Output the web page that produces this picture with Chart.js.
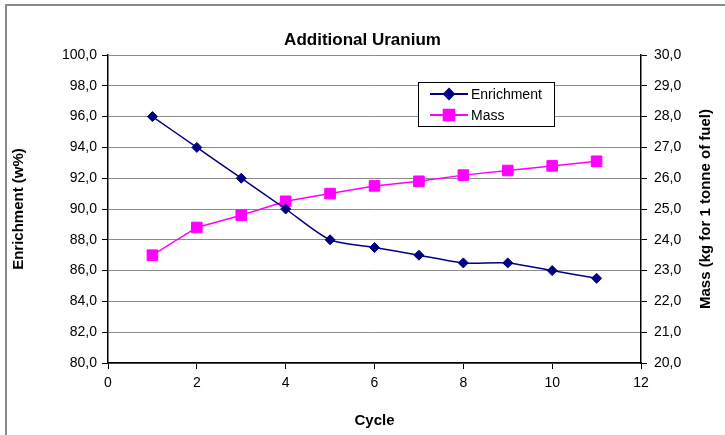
<!DOCTYPE html>
<html>
<head>
<meta charset="utf-8">
<script src="https://cdn.jsdelivr.net/npm/chart.js@4.4.1/dist/chart.umd.min.js"></script>
<style>
  html, body { margin: 0; padding: 0; background: #fff; }
  #wrap { position: relative; width: 725px; height: 435px; }
  #frame {
    position: absolute; left: 5px; top: 4px; right: 0; bottom: 0;
    border-left: 2px solid #8a8a8a; border-top: 2px solid #8a8a8a;
    pointer-events: none;
  }
  canvas { position: absolute; left: 0; top: 0; }
</style>
</head>
<body>
<div id="wrap">
  <canvas id="chart" width="725" height="435"></canvas>
  <div id="frame"></div>
</div>
<script>
  // 数据
  const cycles = [1, 2, 3, 4, 5, 6, 7, 8, 9, 10, 11];
  const enrichment = [96, 94, 92, 90, 88, 87.5, 87, 86.5, 86.5, 86, 85.5];
  const mass = [23.5, 24.4, 24.8, 25.25, 25.5, 25.75, 25.9, 26.1, 26.25, 26.4, 26.55];
  const seriesLabels = ['Enrichment', 'Mass'];
  const seriesColors = ['#000080', '#ff00ff'];
  const rightTitle = 'Mass (kg for 1 tonne of fuel)';

  const fontFamily = "'Liberation Sans', Arial, sans-serif";
  const fmt = v => v.toFixed(1).replace('.', ',');

  // 图内图例（Excel 风格，带边框）
  const boxLegend = {
    id: 'boxLegend',
    afterDraw(chart) {
      const c = chart.ctx;
      const x = 418, y = 82, w = 136, h = 44;
      c.save();
      c.fillStyle = '#fff';
      c.fillRect(x, y, w, h);
      c.strokeStyle = '#000';
      c.lineWidth = 1;
      c.strokeRect(x + 0.5, y + 0.5, w, h);
      c.font = '14px ' + fontFamily;
      c.textBaseline = 'middle';
      chart.data.datasets.forEach((ds, i) => {
        const ly = y + 12 + i * 21;
        c.strokeStyle = ds.borderColor;
        c.lineWidth = 2;
        c.beginPath();
        c.moveTo(x + 12, ly);
        c.lineTo(x + 50, ly);
        c.stroke();
        Chart.helpers.drawPoint(c, {
          pointStyle: ds.pointStyle,
          radius: ds.pointRadius,
          borderWidth: 1
        }, x + 31, ly);
        c.fillStyle = ds.borderColor;
        c.fill();
        c.fillStyle = '#000';
        c.fillText(ds.label, x + 53, ly + 1);
      });
      c.restore();
    }
  };

  // 右轴标题：自下而上书写（Chart.js 默认是自上而下）
  const rightAxisTitle = {
    id: 'rightAxisTitle',
    afterDraw(chart) {
      const c = chart.ctx;
      const area = chart.chartArea;
      c.save();
      c.translate(706, (area.top + area.bottom) / 2);
      c.rotate(-Math.PI / 2);
      c.font = 'bold 15px ' + fontFamily;
      c.fillStyle = '#000';
      c.textAlign = 'center';
      c.textBaseline = 'middle';
      c.fillText(rightTitle, 0, 0);
      c.restore();
    }
  };

  new Chart(document.getElementById('chart'), {
    type: 'line',
    data: {
      datasets: [
        {
          label: seriesLabels[0],
          data: cycles.map((c, i) => ({ x: c, y: enrichment[i] })),
          yAxisID: 'y',
          borderColor: seriesColors[0],
          backgroundColor: seriesColors[0],
          borderWidth: 1.5,
          pointStyle: 'rectRot',
          pointRadius: 5,
          pointBorderWidth: 1,
          tension: 0.25,
          fill: false
        },
        {
          label: seriesLabels[1],
          data: cycles.map((c, i) => ({ x: c, y: mass[i] })),
          yAxisID: 'y1',
          borderColor: seriesColors[1],
          backgroundColor: seriesColors[1],
          borderWidth: 1.5,
          pointStyle: 'rect',
          pointRadius: 7.5,
          pointBorderWidth: 1,
          tension: 0,
          fill: false
        }
      ]
    },
    options: {
      responsive: false,
      animation: false,
      layout: { padding: 0 },
      font: { family: fontFamily },
      plugins: {
        legend: { display: false },
        tooltip: { enabled: false },
        title: {
          display: true,
          text: 'Additional Uranium',
          color: '#000',
          font: { family: fontFamily, size: 17, weight: 'bold' },
          padding: { top: 30, bottom: 4.6 }
        }
      },
      scales: {
        x: {
          type: 'linear',
          min: 0, max: 12,
          afterFit: s => { s.height = 72; },
          ticks: { stepSize: 2, color: '#000', padding: 6, font: { family: fontFamily, size: 14 } },
          grid: { drawOnChartArea: false, drawTicks: true, tickLength: 6, tickColor: '#000' },
          border: { color: '#000', width: 1.5 },
          title: {
            display: true, text: 'Cycle', color: '#000',
            font: { family: fontFamily, size: 15, weight: 'bold' },
            padding: { bottom: 5 }
          }
        },
        y: {
          position: 'left',
          min: 80, max: 100,
          afterFit: s => { s.width = 108; },
          ticks: { stepSize: 2, color: '#000', padding: 5, callback: fmt, font: { family: fontFamily, size: 14 } },
          grid: { color: '#8c8c8c', lineWidth: 1, tickLength: 6, tickColor: '#000' },
          border: { color: '#000', width: 1.5 },
          title: {
            display: true, text: 'Enrichment (w%)', color: '#000',
            font: { family: fontFamily, size: 15, weight: 'bold' },
            padding: { top: 10 }
          }
        },
        y1: {
          position: 'right',
          min: 20, max: 30,
          afterFit: s => { s.width = 84; },
          ticks: { stepSize: 1, color: '#000', padding: 7, callback: fmt, font: { family: fontFamily, size: 14 } },
          grid: { drawOnChartArea: false, tickLength: 6, tickColor: '#000' },
          border: { color: '#000', width: 1.5 },
          title: { display: false }
        }
      }
    },
    plugins: [boxLegend, rightAxisTitle]
  });
</script>
</body>
</html>
